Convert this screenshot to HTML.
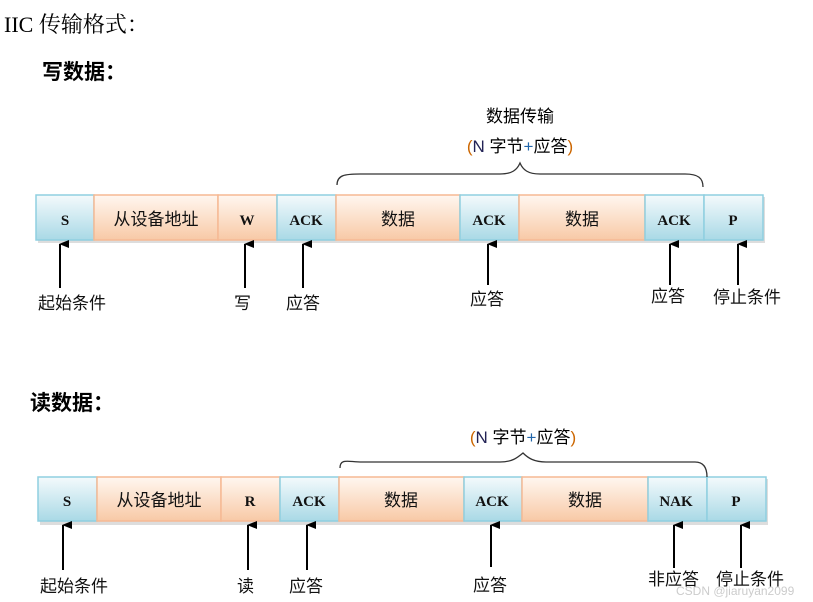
<!DOCTYPE html>
<html><head><meta charset="utf-8"><style>
html,body{margin:0;padding:0;background:#fff;width:813px;height:602px;overflow:hidden}
svg{display:block}
text{font-family:"Liberation Sans","Noto Sans CJK SC",sans-serif}
.t{font-family:"Liberation Serif","Noto Serif CJK SC",serif;font-weight:bold;font-size:15px;fill:#111}
.c{font-size:17px;fill:#111}
.l{font-size:17px;fill:#111}
</style></head><body>
<svg width="813" height="602" viewBox="0 0 813 602" xmlns="http://www.w3.org/2000/svg">
<defs>
<linearGradient id="b" x1="0" y1="0" x2="0" y2="1"><stop offset="0" stop-color="#f4fafc"/><stop offset="1" stop-color="#a9d9e6"/></linearGradient>
<linearGradient id="o" x1="0" y1="0" x2="0" y2="1"><stop offset="0" stop-color="#fff7f0"/><stop offset="1" stop-color="#f8c9a6"/></linearGradient>
<marker id="a" markerWidth="8" markerHeight="10" refX="4" refY="1" orient="auto" markerUnits="userSpaceOnUse"><path d="M0,10 L4,0 L8,10 Z" fill="#000"/></marker>
</defs>
<text x="4" y="32" style="font-family:'Liberation Serif','Noto Serif CJK SC',serif;font-size:22px">IIC 传输格式：</text>
<text x="42" y="79" style="font-family:'Liberation Serif','Noto Sans CJK SC',serif;font-size:21px;font-weight:bold">写数据：</text>
<text x="30" y="410" style="font-family:'Liberation Serif','Noto Sans CJK SC',serif;font-size:21px;font-weight:bold">读数据：</text>

<!-- Row 1 -->
<rect x="38" y="197" width="727" height="46" fill="#bbb" opacity="0.5"/>
<g stroke-width="1.5">
<rect x="36" y="195" width="58" height="45" fill="url(#b)" stroke="#8fcfe0"/>
<rect x="94" y="195" width="124" height="45" fill="url(#o)" stroke="#f6b994"/>
<rect x="218" y="195" width="59" height="45" fill="url(#o)" stroke="#f6b994"/>
<rect x="277" y="195" width="59" height="45" fill="url(#b)" stroke="#8fcfe0"/>
<rect x="336" y="195" width="124" height="45" fill="url(#o)" stroke="#f6b994"/>
<rect x="460" y="195" width="59" height="45" fill="url(#b)" stroke="#8fcfe0"/>
<rect x="519" y="195" width="126" height="45" fill="url(#o)" stroke="#f6b994"/>
<rect x="645" y="195" width="59" height="45" fill="url(#b)" stroke="#8fcfe0"/>
<rect x="704" y="195" width="59" height="45" fill="url(#b)" stroke="#8fcfe0"/>
</g>
<g text-anchor="middle">
<text class="t" x="65" y="225">S</text>
<text class="c" x="156" y="225">从设备地址</text>
<text class="t" x="247" y="225">W</text>
<text class="t" x="306" y="225">ACK</text>
<text class="c" x="398" y="225">数据</text>
<text class="t" x="489" y="225">ACK</text>
<text class="c" x="582" y="225">数据</text>
<text class="t" x="674" y="225">ACK</text>
<text class="t" x="733" y="225">P</text>
</g>
<g stroke="#000" stroke-width="2" marker-end="url(#a)">
<line x1="60" y1="288" x2="60" y2="244"/>
<line x1="245" y1="288" x2="245" y2="244"/>
<line x1="303" y1="288" x2="303" y2="244"/>
<line x1="488" y1="285" x2="488" y2="244"/>
<line x1="670" y1="285" x2="670" y2="244"/>
<line x1="738" y1="285" x2="738" y2="244"/>
</g>
<text class="l" x="38" y="309">起始条件</text>
<text class="l" x="234" y="309">写</text>
<text class="l" x="286" y="309">应答</text>
<text class="l" x="470" y="305">应答</text>
<text class="l" x="651" y="302">应答</text>
<text class="l" x="713" y="303">停止条件</text>
<path d="M337,185 C337,175 345,174 360,174 L500,174 C512,174 517,170 520,163 C523,170 528,174 540,174 L685,174 C698,174 703,178 703,187" fill="none" stroke="#333" stroke-width="1.3"/>
<text x="520" y="122" text-anchor="middle" style="font-size:17px">数据传输</text>
<text x="520" y="152" text-anchor="middle" style="font-size:17px"><tspan fill="#c60">(</tspan><tspan fill="#225">N</tspan> 字节<tspan fill="#26a">+</tspan>应答<tspan fill="#c60">)</tspan></text>

<!-- Row 2 -->
<rect x="40" y="479" width="728" height="46" fill="#bbb" opacity="0.5"/>
<g stroke-width="1.5">
<rect x="38" y="477" width="59" height="44" fill="url(#b)" stroke="#8fcfe0"/>
<rect x="97" y="477" width="124" height="44" fill="url(#o)" stroke="#f6b994"/>
<rect x="221" y="477" width="59" height="44" fill="url(#o)" stroke="#f6b994"/>
<rect x="280" y="477" width="59" height="44" fill="url(#b)" stroke="#8fcfe0"/>
<rect x="339" y="477" width="125" height="44" fill="url(#o)" stroke="#f6b994"/>
<rect x="464" y="477" width="58" height="44" fill="url(#b)" stroke="#8fcfe0"/>
<rect x="522" y="477" width="126" height="44" fill="url(#o)" stroke="#f6b994"/>
<rect x="648" y="477" width="59" height="44" fill="url(#b)" stroke="#8fcfe0"/>
<rect x="707" y="477" width="59" height="44" fill="url(#b)" stroke="#8fcfe0"/>
</g>
<g text-anchor="middle">
<text class="t" x="67" y="506">S</text>
<text class="c" x="159" y="506">从设备地址</text>
<text class="t" x="250" y="506">R</text>
<text class="t" x="309" y="506">ACK</text>
<text class="c" x="401" y="506">数据</text>
<text class="t" x="492" y="506">ACK</text>
<text class="c" x="585" y="506">数据</text>
<text class="t" x="676" y="506">NAK</text>
<text class="t" x="736" y="506">P</text>
</g>
<g stroke="#000" stroke-width="2" marker-end="url(#a)">
<line x1="63" y1="570" x2="63" y2="525"/>
<line x1="248" y1="570" x2="248" y2="525"/>
<line x1="307" y1="570" x2="307" y2="525"/>
<line x1="491" y1="567" x2="491" y2="525"/>
<line x1="674" y1="568" x2="674" y2="525"/>
<line x1="741" y1="568" x2="741" y2="525"/>
</g>
<text class="l" x="40" y="592">起始条件</text>
<text class="l" x="237" y="592">读</text>
<text class="l" x="289" y="592">应答</text>
<text class="l" x="473" y="591">应答</text>
<text class="l" x="648" y="585">非应答</text>
<text class="l" x="716" y="585">停止条件</text>
<text x="676" y="595" style="font-size:12px;fill:#ccc">CSDN @jiaruyan2099</text>
<path d="M340,468 C340,458 348,462 362,462 L500,462 C512,462 517,458 523,453 C528,458 534,462 546,462 L695,462 C704,462 707,468 707,477" fill="none" stroke="#333" stroke-width="1.3"/>
<text x="523" y="443" text-anchor="middle" style="font-size:17px"><tspan fill="#c60">(</tspan><tspan fill="#225">N</tspan> 字节<tspan fill="#26a">+</tspan>应答<tspan fill="#c60">)</tspan></text>
</svg>
</body></html>
